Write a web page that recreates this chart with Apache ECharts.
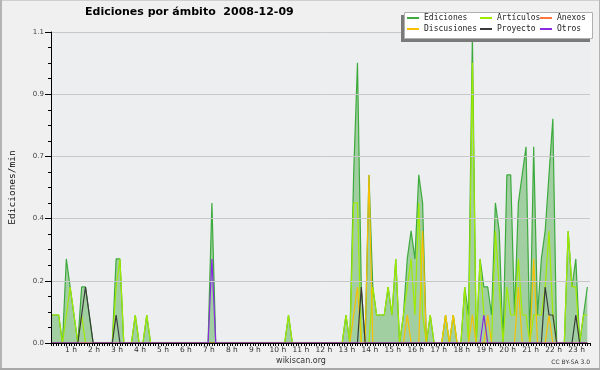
<!DOCTYPE html>
<html><head><meta charset="utf-8">
<script src="https://cdn.jsdelivr.net/npm/echarts@6/dist/echarts.min.js"></script>
<style>html,body{margin:0;padding:0;background:#f0f0f0}#c{width:600px;height:370px}</style>
</head><body><div id="c"></div><script>
// 10-minute steps from 00:00 (index i -> i/6 hours)
const hourLabels = ['1 h','2 h','3 h','4 h','5 h','6 h','7 h','8 h','9 h','10 h','11 h','12 h','13 h','14 h','15 h','16 h','17 h','18 h','19 h','20 h','21 h','22 h','23 h'];
const yTickLabels = ['0.0','0.2','0.4','0.7','0.9','1.1'];
const seriesNames = ['Ediciones','Artículos','Anexos','Discusiones','Proyecto','Otros'];

const ediciones = [
0.1,0.1,0.1,0,0.3,0.2,0.1,0,0.2,0.2,0.1,0,
0,0,0,0,0,0.3,0.3,0,0,0,0.1,0,
0,0.1,0,0,0,0,0,0,0,0,0,0,
0,0,0,0,0,0,0.5,0,0,0,0,0,
0,0,0,0,0,0,0,0,0,0,0,0,
0,0,0.1,0,0,0,0,0,0,0,0,0,
0,0,0,0,0,0.1,0,0.6,1.0,0.2,0,0.6,
0.2,0.1,0.1,0.1,0.2,0.1,0.3,0,0.1,0.3,0.4,0.3,
0.6,0.5,0,0.1,0,0,0,0.1,0,0.1,0,0,
0.2,0.1,1.1,0,0.3,0.2,0.2,0.1,0.5,0.4,0,0.6,
0.6,0.1,0.5,0.6,0.7,0,0.7,0.1,0.3,0.4,0.6,0.8,
0,0,0,0.4,0.2,0.3,0,0.1,0.2];
const articulos = [
0.1,0.1,0.1,0,0.1,0.2,0.1,0,0.1,0,0,0,
0,0,0,0,0,0.2,0.3,0,0,0,0.1,0,
0,0.1,0,0,0,0,0,0,0,0,0,0,
0,0,0,0,0,0,0,0,0,0,0,0,
0,0,0,0,0,0,0,0,0,0,0,0,
0,0,0.1,0,0,0,0,0,0,0,0,0,
0,0,0,0,0,0.1,0,0.5,0.5,0,0,0,
0.2,0.1,0.1,0.1,0.2,0.1,0.3,0,0.1,0.2,0.3,0.1,
0.5,0.1,0,0.1,0,0,0,0.1,0,0.1,0,0,
0.2,0,1.0,0,0.3,0.1,0,0,0.4,0.2,0,0.2,
0.1,0.1,0.3,0.1,0.1,0,0.1,0.1,0.1,0.2,0.4,0.1,
0,0,0,0.4,0.2,0.2,0,0.1,0.1];
const anexos = [
0,0,0,0,0,0,0,0,0,0,0,0,
0,0,0,0,0,0,0,0,0,0,0,0,
0,0,0,0,0,0,0,0,0,0,0,0,
0,0,0,0,0,0,0,0,0,0,0,0,
0,0,0,0,0,0,0,0,0,0,0,0,
0,0,0,0,0,0,0,0,0,0,0,0,
0,0,0,0,0,0,0,0,0,0,0,0,
0,0,0,0,0,0,0,0,0,0,0,0,
0,0,0,0,0,0,0,0,0,0,0,0,
0,0,0,0,0,0,0,0,0,0,0,0,
0,0,0,0,0,0,0,0,0,0,0,0,
0,0,0,0,0,0,0,0,0];
const discusiones = [
0,0,0,0,0,0,0,0,0,0,0,0,
0,0,0,0,0,0,0,0,0,0,0,0,
0,0,0,0,0,0,0,0,0,0,0,0,
0,0,0,0,0,0,0,0,0,0,0,0,
0,0,0,0,0,0,0,0,0,0,0,0,
0,0,0,0,0,0,0,0,0,0,0,0,
0,0,0,0,0,0,0,0.1,0.2,0,0,0.6,
0,0,0,0,0,0,0,0,0,0.1,0,0,
0,0.4,0,0,0,0,0,0.1,0,0.1,0,0,
0,0,0.1,0,0,0,0.1,0,0,0,0,0,
0,0,0.2,0,0,0,0.3,0,0,0,0.1,0,
0,0,0,0,0,0,0,0,0];
const proyecto = [
0,0,0,0,0,0,0,0,0.1,0.2,0.1,0,
0,0,0,0,0,0.1,0,0,0,0,0,0,
0,0,0,0,0,0,0,0,0,0,0,0,
0,0,0,0,0,0,0,0,0,0,0,0,
0,0,0,0,0,0,0,0,0,0,0,0,
0,0,0,0,0,0,0,0,0,0,0,0,
0,0,0,0,0,0,0,0,0,0.2,0,0,
0,0,0,0,0,0,0,0,0,0,0,0,
0,0,0,0,0,0,0,0,0,0,0,0,
0,0,0,0,0,0,0,0,0,0,0,0,
0,0,0,0,0,0,0,0,0,0.2,0.1,0.1,
0,0,0,0,0,0.1,0,0,0];
const otros = [
0,0,0,0,0,0,0,0,0,0,0,0,
0,0,0,0,0,0,0,0,0,0,0,0,
0,0,0,0,0,0,0,0,0,0,0,0,
0,0,0,0,0,0,0.3,0,0,0,0,0,
0,0,0,0,0,0,0,0,0,0,0,0,
0,0,0,0,0,0,0,0,0,0,0,0,
0,0,0,0,0,0,0,0,0,0,0,0,
0,0,0,0,0,0,0,0,0,0,0,0,
0,0,0,0,0,0,0,0,0,0,0,0,
0,0,0,0,0,0.1,0,0,0,0,0,0,
0,0,0,0,0,0,0,0,0,0,0,0,
0,0,0,0,0,0,0,0,0];

const colors = ['#3caa3c','#a0ea00','#ff7840','#f8c000','#3a3a3a','#8a2be2'];
const values = [ediciones, articulos, anexos, discusiones, proyecto, otros];
const toPairs = arr => arr.map((v, i) => [i / 6, v]);

const chart = echarts.init(document.getElementById('c'), null, {renderer: 'canvas'});
const legendCommon = {
  orient: 'vertical', top: 13, itemWidth: 12, itemHeight: 2, itemGap: 1, icon: 'rect',
  selectedMode: false, z: 60, padding: 0,
  textStyle: {fontFamily: 'DejaVu Sans Mono', fontSize: 8, color: '#222', lineHeight: 10}
};
const series = seriesNames.map((name, k) => ({
  name, type: 'line', data: toPairs(values[k]), showSymbol: false, symbol: 'none',
  color: colors[k], lineStyle: {width: k === 0 ? 1.2 : 1.2, color: colors[k]},
  areaStyle: k === 0 ? {color: '#a2cfa2', opacity: 1} : undefined,
  z: k === 0 ? 2 : 3, animation: false
}));

chart.setOption({
  animation: false,
  backgroundColor: '#f0f0f0',
  title: {text: 'Ediciones por ámbito  2008-12-09', left: 85, top: 7, padding: 0,
    textStyle: {fontFamily: 'DejaVu Sans', fontWeight: 'bold', fontSize: 11, color: '#000'}},
  legend: [
    Object.assign({}, legendCommon, {left: 407, data: ['Ediciones', 'Discusiones']}),
    Object.assign({}, legendCommon, {left: 480, data: ['Artículos', 'Proyecto']}),
    Object.assign({}, legendCommon, {left: 540, data: ['Anexos', 'Otros']})
  ],
  grid: {left: 46, right: 10, top: 32, bottom: 27, show: true, backgroundColor: '#edeef0', borderWidth: 0},
  xAxis: {
    type: 'value', min: 0, max: 23.45, interval: 1, z: 10,
    axisLine: {lineStyle: {color: '#000', width: 1}},
    axisTick: {length: 3, lineStyle: {color: '#000'}},
    minorTick: {show: true, splitNumber: 9, length: 3, lineStyle: {color: '#000'}},
    splitLine: {show: false},
    axisLabel: {margin: 3, fontFamily: 'DejaVu Sans', fontSize: 7.5, color: '#333', padding: [0, 6, 0, 0],
      formatter: v => (Math.abs(v - Math.round(v)) < 1e-6 && v >= 1 && v <= 23) ? hourLabels[Math.round(v) - 1] : ''}
  },
  yAxis: {
    type: 'value', min: 0, max: 1.11, interval: 0.222, z: 10,
    name: 'Ediciones/min', nameLocation: 'middle', nameRotate: 90, nameGap: 33,
    nameTextStyle: {fontFamily: 'DejaVu Sans Mono', fontSize: 9.5, color: '#111'},
    axisLine: {show: true, lineStyle: {color: '#000', width: 1}},
    axisTick: {show: true, length: 6, lineStyle: {color: '#000'}},
    minorTick: {show: true, splitNumber: 4, length: 3, lineStyle: {color: '#000'}},
    splitLine: {show: true, lineStyle: {color: '#c8c8c8', width: 1}},
    axisLabel: {margin: 7, fontFamily: 'DejaVu Sans', fontSize: 7, color: '#444',
      formatter: v => yTickLabels[Math.round(v / 0.222)] || ''}
  },
  graphic: [
    {type: 'rect', z: 50, shape: {x: 401, y: 15, width: 189, height: 27}, style: {fill: '#7a7a7a'}},
    {type: 'rect', z: 51, shape: {x: 404.5, y: 12.5, width: 188, height: 26}, style: {fill: '#ffffff', stroke: '#b0b0b0', lineWidth: 1}},
    {type: 'text', z: 60, style: {text: 'wikiscan.org', x: 301, y: 361, align: 'center', verticalAlign: 'middle',
      font: '8px "DejaVu Sans"', fill: '#333'}},
    {type: 'text', z: 60, style: {text: 'CC BY-SA 3.0', x: 590, y: 362, align: 'right', verticalAlign: 'middle',
      font: '6px "DejaVu Sans"', fill: '#333'}},
    {type: 'rect', z: 70, shape: {x: 0, y: 0, width: 600, height: 1}, style: {fill: '#d0d0d0'}},
    {type: 'rect', z: 70, shape: {x: 0, y: 0, width: 2, height: 370}, style: {fill: '#b4b4b4'}},
    {type: 'rect', z: 70, shape: {x: 599, y: 0, width: 1, height: 370}, style: {fill: '#b4b4b4'}},
    {type: 'rect', z: 70, shape: {x: 0, y: 368, width: 600, height: 2}, style: {fill: '#a8a8a8'}}
  ],
  series
});
</script></body></html>
